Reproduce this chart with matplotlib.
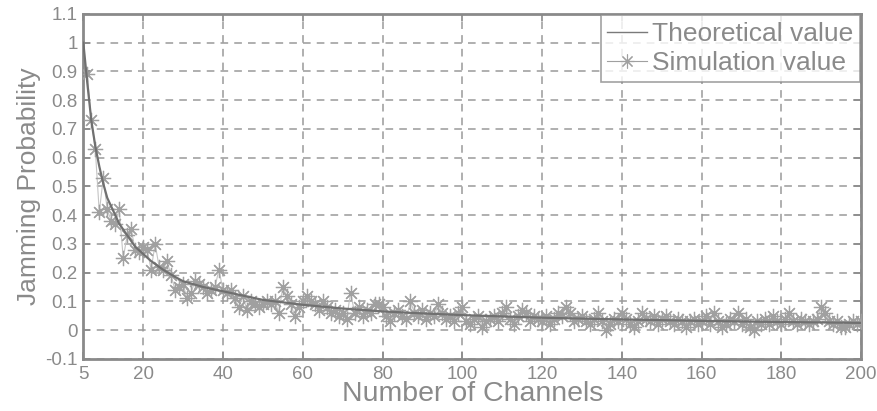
import matplotlib
matplotlib.use('Agg')
import matplotlib.pyplot as plt
import numpy as np

plt.rcParams['font.family'] = ['Liberation Sans', 'DejaVu Sans']

# theoretical curve at selected channel counts
theory_x = [5, 6, 7, 8, 9, 10, 11, 12, 13, 14, 16, 18, 20, 22, 25, 28, 30, 35, 40,
            45, 50, 60, 70, 80, 90, 100, 120, 140, 160, 180, 200]
theory_y = [1.0, 0.86, 0.73, 0.64, 0.57, 0.51, 0.46, 0.43, 0.40, 0.37, 0.33, 0.29, 0.265,
            0.24, 0.21, 0.185, 0.17, 0.15, 0.135, 0.12, 0.105, 0.088, 0.075, 0.065,
            0.058, 0.052, 0.043, 0.037, 0.032, 0.028, 0.025]

# simulation, one point per channel count from 6 to 200
sim_x = np.arange(6, 201)
sim_y = [
    0.89, 0.73, 0.63, 0.41, 0.53, 0.42, 0.38, 0.37, 0.42, 0.25,   # 6-15
    0.33, 0.35, 0.28, 0.27, 0.29, 0.28, 0.21, 0.30, 0.22, 0.21,   # 16-25
    0.24, 0.19, 0.14, 0.15, 0.16, 0.11, 0.13, 0.17, 0.16, 0.15,   # 26-35
    0.13, 0.14, 0.15, 0.21, 0.14, 0.13, 0.14, 0.11, 0.08, 0.12,   # 36-45
    0.07, 0.10, 0.09, 0.08, 0.09, 0.10, 0.09, 0.10, 0.06, 0.15,   # 46-55
    0.12, 0.09, 0.05, 0.08, 0.10, 0.12, 0.10, 0.09, 0.07, 0.10,   # 56-65
    0.08, 0.06, 0.07, 0.05, 0.06, 0.04, 0.13, 0.06, 0.08, 0.05,   # 66-75
    0.07, 0.06, 0.09, 0.09, 0.08, 0.05, 0.03, 0.06, 0.07, 0.05,   # 76-85
    0.04, 0.10, 0.06, 0.05, 0.07, 0.04, 0.06, 0.05, 0.09, 0.06,   # 86-95
    0.04, 0.05, 0.03, 0.06, 0.08, 0.03, 0.02, 0.04, 0.05, 0.01,   # 96-105
    0.03, 0.04, 0.05, 0.03, 0.06, 0.08, 0.04, 0.02, 0.05, 0.07,   # 106-115
    0.06, 0.03, 0.05, 0.04, 0.03, 0.05, 0.02, 0.04, 0.06, 0.05,   # 116-125
    0.08, 0.06, 0.03, 0.04, 0.05, 0.03, 0.02, 0.04, 0.06, 0.03,   # 126-135
    0.00, 0.02, 0.04, 0.03, 0.06, 0.04, 0.02, 0.01, 0.03, 0.06,   # 136-145
    0.04, 0.03, 0.05, 0.02, 0.04, 0.05, 0.03, 0.02, 0.04, 0.03,   # 146-155
    0.01, 0.03, 0.04, 0.02, 0.03, 0.05, 0.02, 0.06, 0.03, 0.01,   # 156-165
    0.02, 0.04, 0.03, 0.06, 0.02, 0.04, 0.01, 0.00, 0.03, 0.02,   # 166-175
    0.04, 0.02, 0.05, 0.03, 0.02, 0.04, 0.06, 0.03, 0.02, 0.04,   # 176-185
    0.03, 0.02, 0.03, 0.04, 0.08, 0.06, 0.03, 0.02, 0.03, 0.01,   # 186-195
    0.01, 0.02, 0.03, 0.02, 0.03,                                 # 196-200
]

x_ticks = [5, 20, 40, 60, 80, 100, 120, 140, 160, 180, 200]
y_ticks = [-0.1, 0, 0.1, 0.2, 0.3, 0.4, 0.5, 0.6, 0.7, 0.8, 0.9, 1, 1.1]

gray = '#8a8a8a'
star = (8, 2, 0)  # matlab-style asterisk

fig = plt.figure(figsize=(8.77, 4.11), dpi=100)
ax = fig.add_axes([0.095, 0.127, 0.887, 0.839])

ax.plot(sim_x, sim_y, '-', color='#c4c4c4', lw=0.8, zorder=2)
ax.plot(sim_x, sim_y, marker=star, color='#a0a0a0', ms=11, mew=0.9, ls='none', zorder=3)
ax.plot(theory_x, theory_y, '-', color='#707070', lw=1.6, zorder=4)

# legend proxies
h1, = ax.plot([], [], '-', color='#7a7a7a', lw=1.0)
h2, = ax.plot([], [], '-', marker=star, color='#a0a0a0', lw=0.8, ms=10, mew=0.8)

ax.set_xlim(5, 200)
ax.set_ylim(-0.1, 1.1)
ax.set_xticks(x_ticks)
ax.set_yticks(y_ticks)
ax.set_yticklabels(['%g' % v for v in y_ticks])
ax.tick_params(direction='in', length=5, colors=gray, labelsize=13.5, width=1.2,
               top=True, right=True, pad=4)
ax.tick_params(axis='x', pad=5)
for s in ax.spines.values():
    s.set_color(gray)
    s.set_linewidth(2)
ax.grid(True, ls=(0, (5, 4)), color='#9a9a9a', lw=1.1)

ax.set_xlabel('Number of Channels', fontsize=20.5, color=gray, labelpad=-1)
ax.set_ylabel('Jamming Probability', fontsize=19, color=gray, labelpad=3)

leg = ax.legend([h1, h2], ['Theoretical value', 'Simulation value'], loc='upper right',
                fontsize=19, frameon=True, fancybox=False, borderaxespad=0.05,
                handlelength=1.5, handletextpad=0.2, borderpad=0.25, labelspacing=0.2)
leg.get_frame().set_edgecolor(gray)
leg.get_frame().set_linewidth(1.2)
for t in leg.get_texts():
    t.set_color(gray)

fig.savefig('out.png', dpi=100)
